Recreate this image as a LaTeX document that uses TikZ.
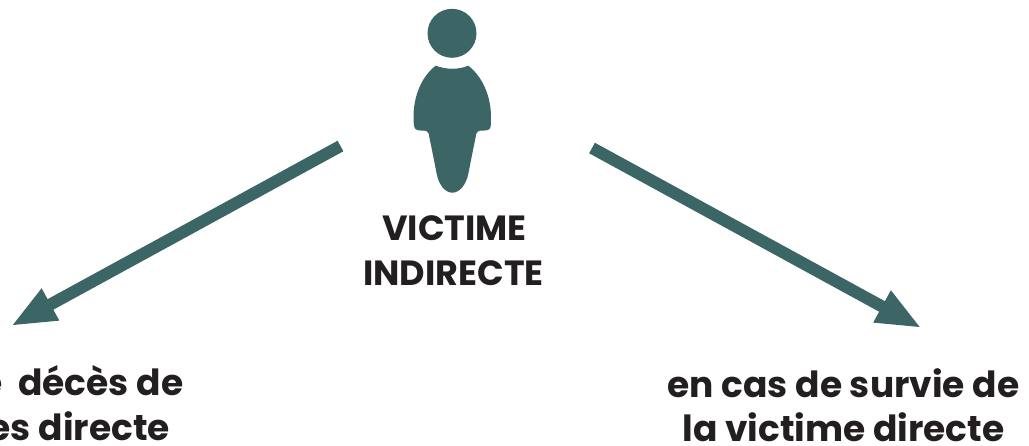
\documentclass[tikz,border=0pt]{standalone}
\usepackage{fontspec}
\setmainfont{Poppins}
\usetikzlibrary{arrows.meta}
\definecolor{teal}{HTML}{3C6665}
\definecolor{ink}{HTML}{231F20}
\tikzset{
  lbl/.style={font=\fontsize{36}{36}\selectfont\bfseries, text=ink, inner sep=0pt},
  title/.style={font=\fontsize{35}{35}\selectfont\bfseries, text=ink, inner sep=0pt},
  lnk/.style={draw=teal, line width=12pt, -{Triangle[length=45pt,width=33pt]}}
}
\begin{document}
\begin{tikzpicture}[x=1pt,y=-1pt]
\useasboundingbox (0,0) rectangle (1029,445);
\clip (0,0) rectangle (1029,445);
% person
\fill[teal] (452,33.3) circle (24.5);
\fill[teal] (435.7,65.7) .. controls (447,69.8) and (458,69.8) .. (468.3,65.7)
  .. controls (483,77) and (491,97) .. (491,117)
  .. controls (491,124) and (491,128) .. (489.5,129)
  .. controls (487,131.5) and (481,130) .. (478.5,131)
  .. controls (476,132) and (476,135) .. (475.5,138)
  .. controls (473,150) and (471,160) .. (468.5,173)
  .. controls (466.5,184) and (460,192.7) .. (452.3,192.7)
  .. controls (444.5,192.7) and (438.5,184) .. (436.5,173)
  .. controls (434,160) and (432,150) .. (429.5,138)
  .. controls (429,135) and (429,132) .. (426.5,131)
  .. controls (424,130) and (418,131.5) .. (415.5,129)
  .. controls (414,128) and (413.5,124) .. (413.5,117)
  .. controls (413.5,97) and (421,77) .. (435.7,65.7) -- cycle;
% labels
\node[title, anchor=base] (v1) at (454.5,240) {VICTIME};
\node[title, anchor=base] (v2) at (453.5,285) {INDIRECTE};
\node[lbl, anchor=base east] (l1) at (183.5,395) {e\hspace{8pt} décès de};
\node[lbl, anchor=base east] (l2) at (170,440) {es directe};
\node[lbl, anchor=base] (r1) at (843.5,397.5) {en cas de survie de};
\node[lbl, anchor=base] (r2) at (843.5,441) {la victime directe};
% arrows
\coordinate (as) at (340.5,146);
\coordinate (ae) at (11,326);
\coordinate (bs) at (592,148);
\coordinate (be) at (921.5,328);
\draw[lnk] (as) -- (ae);
\draw[lnk] (bs) -- (be);
\end{tikzpicture}
\end{document}
